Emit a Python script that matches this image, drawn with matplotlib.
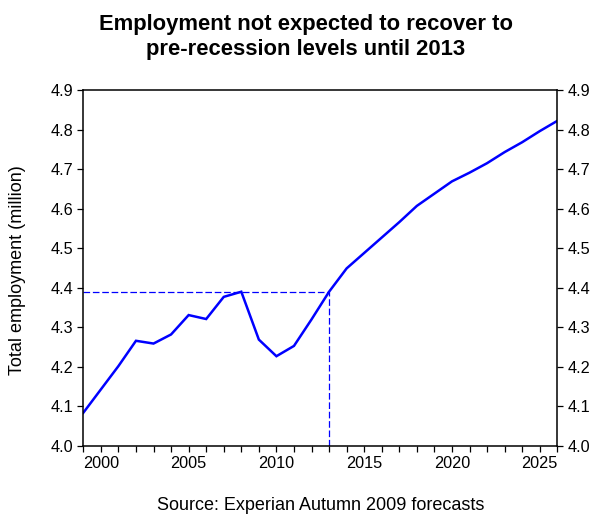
import matplotlib
matplotlib.use("Agg")
import matplotlib.pyplot as plt

years = list(range(1999, 2027))
employment = [4.084, 4.143, 4.202, 4.266, 4.259, 4.282, 4.331, 4.321, 4.377, 4.390,
              4.269, 4.227, 4.253, 4.320, 4.390, 4.449, 4.488, 4.527, 4.566, 4.607,
              4.638, 4.669, 4.691, 4.715, 4.743, 4.768, 4.796, 4.822]
recovery_year = 2013
recovery_level = 4.390

title = "Employment not expected to recover to\npre-recession levels until 2013"
ylabel = "Total employment (million)"
source = "Source: Experian Autumn 2009 forecasts"
yticks = [4.0, 4.1, 4.2, 4.3, 4.4, 4.5, 4.6, 4.7, 4.8, 4.9]
xticks_major = [2000, 2005, 2010, 2015, 2020, 2025]

plt.rcParams['font.family'] = ['Liberation Sans', 'DejaVu Sans']

fig = plt.figure(figsize=(5.95, 5.18), dpi=100)
ax = fig.add_axes([83.3/595, 1-446/518, (557.3-83.3)/595, (446-90)/518])

ax.plot(years, employment, color='#0000ff', lw=1.8, solid_joinstyle='miter')
ax.plot([years[0], recovery_year], [recovery_level, recovery_level], color='#0000ff',
        lw=0.9, dashes=(5.3, 2.2))
ax.plot([recovery_year, recovery_year], [4.0, recovery_level], color='#0000ff',
        lw=0.9, dashes=(5.3, 2.2))

ax.set_xlim(1999, 2026)
ax.set_ylim(4.0, 4.9)
ax.set_yticks(yticks)
ax.set_yticklabels([f"{v:.1f}" for v in yticks])
ax.set_xticks(list(range(1999, 2027)))
ax.set_xticklabels([str(y) if y in xticks_major else "" for y in range(1999, 2027)])
ax.tick_params(axis='both', direction='out', length=4.3, width=0.9, labelsize=11.7,
               color='black', labelcolor='black')
ax.tick_params(axis='y', right=True, labelright=True, pad=3)
ax.tick_params(axis='x', pad=3)
for s in ax.spines.values():
    s.set_linewidth(1.1)
    s.set_color('black')

fig.text(18/595, 1-270/518, ylabel, ha='center', va='center', rotation=90, fontsize=13)
fig.text(306/595, 1-37/518, title, ha='center', va='center', fontsize=15.8,
         fontweight='bold', linespacing=1.3)
fig.text(321/595, 1-506/518, source, ha='center', va='center', fontsize=13)

fig.savefig("out.png", dpi=100)
